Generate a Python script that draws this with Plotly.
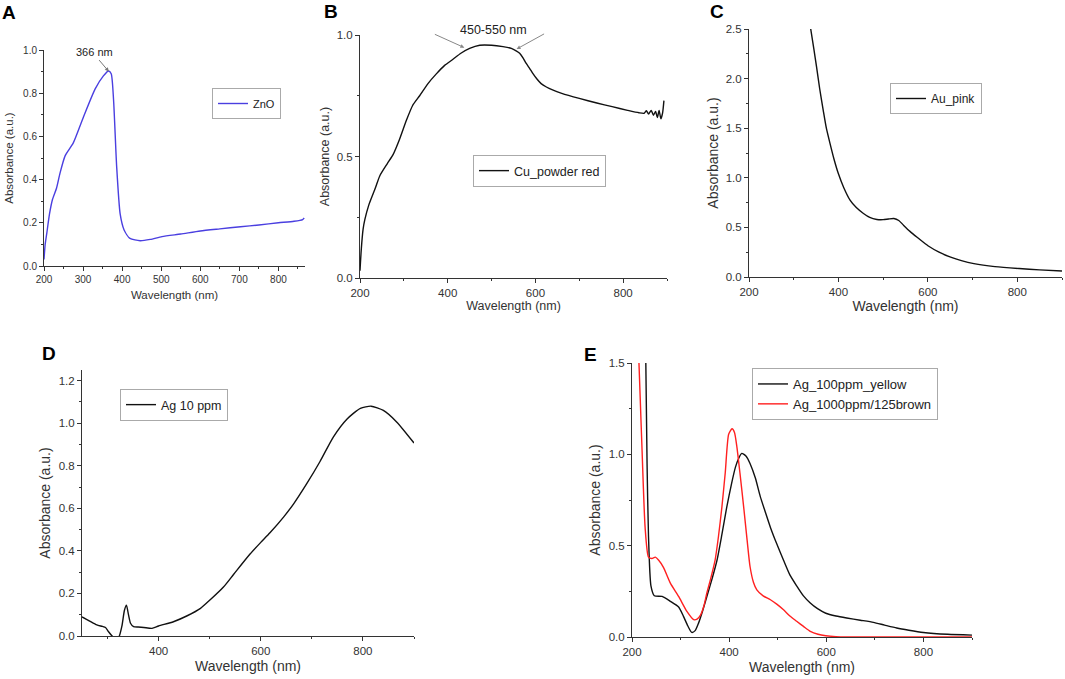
import plotly.graph_objects as go

W, H = 1065, 679

# --- data (wavelength in nm, absorbance in a.u.) ---
zno_wl = [200, 203, 207, 214, 222, 232, 241, 254, 275, 301, 331, 352, 365, 372, 378, 386, 395,
          405, 420, 446, 472, 502, 550, 600, 650, 703, 750, 800, 840, 862, 866]
zno_abs = [0.03, 0.10, 0.15, 0.24, 0.31, 0.36, 0.43, 0.51, 0.57, 0.69, 0.82, 0.88, 0.903, 0.89, 0.77,
           0.46, 0.24, 0.167, 0.128, 0.117, 0.123, 0.136, 0.148, 0.162, 0.172, 0.182, 0.19, 0.2,
           0.207, 0.215, 0.222]

cu_wl = [200, 203, 207, 211, 220, 235, 245, 262, 276, 290, 306, 320, 336, 355, 374, 393, 412, 430,
         450, 473, 500, 526, 545, 556, 564, 572, 579, 587, 594, 603, 613, 625, 639, 660, 700, 740,
         775, 810, 836, 848, 853, 858, 864, 869, 874, 878, 882, 886, 890, 893]
cu_abs = [0.03, 0.12, 0.2, 0.24, 0.3, 0.37, 0.42, 0.47, 0.51, 0.57, 0.65, 0.71, 0.75, 0.8, 0.84, 0.875,
          0.9, 0.925, 0.945, 0.958, 0.958, 0.952, 0.945, 0.935, 0.925, 0.905, 0.883, 0.862, 0.842,
          0.82, 0.80, 0.786, 0.774, 0.76, 0.739, 0.72, 0.705, 0.69, 0.68, 0.678, 0.688, 0.675, 0.69,
          0.67, 0.685, 0.66, 0.69, 0.655, 0.68, 0.73]

au_wl = [338, 345, 351, 358, 366, 373, 381, 390, 400, 412, 426, 440, 456, 470, 486, 500, 512, 524,
         535, 546, 560, 576, 590, 602, 625, 651, 675, 703, 750, 804, 850, 900]
au_abs = [2.5, 2.3, 2.12, 1.9, 1.68, 1.5, 1.35, 1.19, 1.04, 0.9, 0.775, 0.7, 0.64, 0.6, 0.58, 0.578,
          0.585, 0.59, 0.57, 0.52, 0.46, 0.40, 0.35, 0.31, 0.25, 0.20, 0.165, 0.135, 0.105, 0.085,
          0.072, 0.06]

ag10_wl = [250, 265, 279, 290, 296, 302, 309, 315, 322, 328, 333, 337, 341, 345, 351, 360, 371, 387,
           400, 429, 455, 482, 501, 527, 547, 579, 600, 618, 645, 664, 690, 716, 742, 769, 795, 816,
           840, 866, 900]
ag10_abs = [0.09, 0.07, 0.052, 0.045, 0.04, 0.02, 0.0, -0.01, -0.005, 0.045, 0.12, 0.145, 0.1, 0.06,
            0.044, 0.042, 0.04, 0.036, 0.047, 0.067, 0.094, 0.13, 0.17, 0.23, 0.29, 0.385, 0.44,
            0.485, 0.56, 0.62, 0.716, 0.82, 0.935, 1.02, 1.07, 1.08, 1.06, 1.006, 0.907]

ag100_wl = [228, 231, 234, 239, 246, 262, 279, 296, 306, 315, 323, 330, 337, 345, 354, 365, 375, 385,
            395, 405, 413, 420, 426, 435, 443, 454, 464, 475, 485, 498, 512, 525, 539, 553, 567, 582,
            599, 620, 642, 670, 697, 720, 745, 770, 800, 850, 900]
ag100_abs = [1.6, 0.95, 0.55, 0.28, 0.226, 0.222, 0.195, 0.164, 0.113, 0.06, 0.025, 0.035, 0.076,
             0.14, 0.22, 0.32, 0.42, 0.56, 0.71, 0.84, 0.93, 0.98, 1.005, 0.99, 0.95, 0.87, 0.77,
             0.68, 0.60, 0.51, 0.42, 0.34, 0.28, 0.225, 0.186, 0.155, 0.13, 0.115, 0.104, 0.092,
             0.08, 0.065, 0.049, 0.037, 0.025, 0.015, 0.01]

ag1000_wl = [213, 217, 221, 227, 234, 241, 248, 255, 265, 279, 296, 313, 327, 334, 341, 348, 354, 362,
             371, 378, 385, 392, 399, 406, 411, 416, 423, 430, 437, 443, 450, 457, 470, 485, 498, 512,
             525, 539, 553, 567, 583, 599, 620, 642, 700, 800, 900]
ag1000_abs = [1.6, 1.3, 1.0, 0.6, 0.437, 0.43, 0.437, 0.42, 0.38, 0.295, 0.222, 0.14, 0.095, 0.098,
              0.12, 0.17, 0.24, 0.32, 0.42, 0.55, 0.71, 0.9, 1.11, 1.14, 1.12, 1.04, 0.88, 0.71, 0.53,
              0.386, 0.3, 0.258, 0.225, 0.204, 0.18, 0.149, 0.115, 0.086, 0.058, 0.031, 0.015, 0.007,
              0.002, 0.0, 0.0, 0.0, 0.0]

FONT = "Liberation Sans, Arial, sans-serif"
AXC = "#333333"


def px(x):
    return x / W


def py(y):
    return 1 - y / H


# panel boxes in window pixels: (left, right, top, bottom)
panels = {
    "A": dict(box=(44, 305, 50, 266), xr=[200, 868], yr=[0, 1.0], xdt=100, xmin=50, ydt=0.2, ymin=0.1,
              tick=10, title=11.5, xs=6, ys=7),
    "B": dict(box=(360, 667, 35, 278), xr=[200, 900], yr=[0, 1.0], xdt=200, xmin=100, ydt=0.5, ymin=0.25,
              tick=11.5, title=12.5, xs=2, ys=4),
    "C": dict(box=(749, 1062, 29, 277), xr=[200, 900], yr=[0, 2.5], xdt=200, xmin=100, ydt=0.5, ymin=0.25,
              tick=11.5, title=14, xs=2, ys=3),
    "D": dict(box=(82, 414, 370, 636), xr=[250, 900], yr=[0, 1.25], xdt=200, xmin=100, ydt=0.2, ymin=0.1,
              tick=11.5, title=14, xs=5, ys=4),
    "E": dict(box=(632, 972, 363, 637), xr=[200, 900], yr=[0, 1.5], xdt=200, xmin=100, ydt=0.5, ymin=0.25,
              tick=11.5, title=14, xs=5, ys=4),
}

fig = go.Figure()
layout = dict(width=W, height=H, margin=dict(l=0, r=0, t=0, b=0, autoexpand=False),
              paper_bgcolor="white", plot_bgcolor="white",
              font=dict(family=FONT, color=AXC), showlegend=True)

for i, (name, p) in enumerate(panels.items()):
    n = "" if i == 0 else str(i + 1)
    l, r, t, b = p["box"]
    xtick0 = 200 if name != "D" else 400
    layout["xaxis" + n] = dict(
        domain=[px(l), px(r)], anchor="y" + n, range=p["xr"], automargin=False,
        showline=True, linecolor=AXC, linewidth=1,
        showgrid=False, zeroline=False, ticks="outside", ticklen=4, tickcolor=AXC,
        tickmode="linear", tick0=xtick0, dtick=p["xdt"], tickfont=dict(size=p["tick"], color=AXC),
        minor=dict(ticks="outside", ticklen=2, tickcolor=AXC, dtick=p["xmin"], tick0=200),
        title=dict(text="Wavelength (nm)", font=dict(size=p["title"], color=AXC), standoff=p["xs"]),
    )
    layout["yaxis" + n] = dict(
        domain=[py(b), py(t)], anchor="x" + n, range=p["yr"], automargin=False,
        showline=True, linecolor=AXC, linewidth=1,
        showgrid=False, zeroline=False, ticks="outside", ticklen=4, tickcolor=AXC,
        tickmode="linear", tick0=0, dtick=p["ydt"], tickformat=".1f",
        tickfont=dict(size=p["tick"], color=AXC),
        minor=dict(ticks="outside", ticklen=2, tickcolor=AXC, dtick=p["ymin"], tick0=0),
        title=dict(text="Absorbance (a.u.)", font=dict(size=p["title"], color=AXC), standoff=p["ys"]),
    )

traces = [
    ("ZnO", zno_wl, zno_abs, "#4a3fe0", "", "legend"),
    ("Cu_powder red", cu_wl, cu_abs, "#111111", "2", "legend2"),
    ("Au_pink", au_wl, au_abs, "#111111", "3", "legend3"),
    ("Ag 10 ppm", ag10_wl, ag10_abs, "#111111", "4", "legend4"),
    ("Ag_100ppm_yellow", ag100_wl, ag100_abs, "#111111", "5", "legend5"),
    ("Ag_1000ppm/125brown", ag1000_wl, ag1000_abs, "#ff2020", "5", "legend5"),
]
for label, xs, ys, col, n, leg in traces:
    fig.add_trace(go.Scatter(x=xs, y=ys, mode="lines", name=label, legend=leg,
                             line=dict(color=col, width=1.4, shape="spline", smoothing=0.6),
                             xaxis="x" + n, yaxis="y" + n))

# legend boxes (left, top in window pixels, font size)
legends = {"legend": (212, 88, 11), "legend2": (473, 155, 12.5), "legend3": (890, 83, 12),
           "legend4": (120, 389, 12.5), "legend5": (752, 368, 13)}
for key, (lx, ly, fs) in legends.items():
    layout[key] = dict(x=px(lx), y=py(ly), xanchor="left", yanchor="top", bgcolor="white",
                       bordercolor="#aaaaaa", borderwidth=1, font=dict(size=fs, color="#222222"),
                       tracegroupgap=0)

fig.update_layout(**layout)

# panel letters
for letter, (lx, ly) in {"A": (9, 12), "B": (331, 11), "C": (717, 11), "D": (49, 353), "E": (590, 354)}.items():
    fig.add_annotation(text="<b>%s</b>" % letter, x=px(lx), y=py(ly), xref="paper", yref="paper",
                       xanchor="center", yanchor="middle", showarrow=False,
                       font=dict(size=19, color="black", family=FONT))

# peak labels and arrows
fig.add_annotation(text="366 nm", x=px(94), y=py(52), xref="paper", yref="paper", showarrow=False,
                   xanchor="center", yanchor="middle", font=dict(size=11, color="#222222"))
fig.add_annotation(text="", x=366, y=0.9, xref="x", yref="y", ax=-11, ay=-13, showarrow=True,
                   arrowhead=2, arrowsize=0.8, arrowwidth=1, arrowcolor="#777777")
fig.add_annotation(text="450-550 nm", x=px(493), y=py(30), xref="paper", yref="paper",
                   xanchor="center", yanchor="middle", showarrow=False,
                   font=dict(size=12.5, color="#222222"))
fig.add_annotation(text="", x=438, y=0.948, xref="x2", yref="y2", ax=-31, ay=-14, showarrow=True,
                   arrowhead=2, arrowsize=0.8, arrowwidth=1, arrowcolor="#888888")
fig.add_annotation(text="", x=557, y=0.942, xref="x2", yref="y2", ax=29, ay=-16, showarrow=True,
                   arrowhead=2, arrowsize=0.8, arrowwidth=1, arrowcolor="#888888")

# drop the browser's default body margin so the figure fills the window
fig.write_html("out.html", config={"displayModeBar": False},
               post_script="document.body.style.margin='0px';")
